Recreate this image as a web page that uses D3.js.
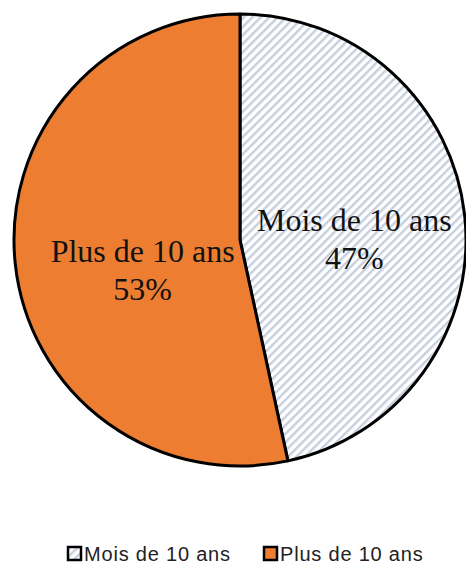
<!DOCTYPE html>
<html>
<head>
<meta charset="utf-8">
<script src="https://cdn.jsdelivr.net/npm/d3@7"></script>
<style>
  body { margin: 0; background: #fff; }
</style>
</head>
<body>
<div id="chart"></div>
<script>
let categories = ["Mois de 10 ans", "Plus de 10 ans"];
let values = [46.6, 53.4];
let pctLabels = ["47%", "53%"];

let w = 466, h = 566;
let cx = 240, cy = 240, r = 226;

let svg = d3.select("#chart")
    .append("svg")
    .attr("width", w)
    .attr("height", h);

// hatch pattern for the first slice
let defs = svg.append("defs");
let pat = defs.append("pattern")
    .attr("id", "hatch")
    .attr("patternUnits", "userSpaceOnUse")
    .attr("width", 6)
    .attr("height", 6)
    .attr("patternTransform", "rotate(45)");
pat.append("rect").attr("width", 6).attr("height", 6).attr("fill", "#fff");
pat.append("rect").attr("x", 0).attr("width", 2.4).attr("height", 6).attr("fill", "#c6cfdd");

let fills = ["url(#hatch)", "#ed7d31"];

let pie = d3.pie().sort(null).value(d => d);
let arc = d3.arc().innerRadius(0).outerRadius(r);
let arcs = pie(values);

let g = svg.append("g").attr("transform", `translate(${cx},${cy})`);

g.selectAll("path")
    .data(arcs)
    .enter()
    .append("path")
    .attr("d", arc)
    .attr("fill", (d, i) => fills[i])
    .attr("stroke", "#000")
    .attr("stroke-width", 3)
    .attr("stroke-linejoin", "round");

// labels inside slices (nudged like the hand-moved labels of the original)
let labelArc = d3.arc().innerRadius(r * 0.5).outerRadius(r * 0.5);
let nudge = [[2, 12], [15, 18]];
let lbl = g.selectAll("text.lbl")
    .data(arcs)
    .enter()
    .append("text")
    .attr("class", "lbl")
    .attr("text-anchor", "middle")
    .attr("font-family", "'Liberation Serif', 'Times New Roman', serif")
    .attr("font-size", 32)
    .attr("fill", "#111")
    .attr("transform", (d, i) => {
        let c = labelArc.centroid(d);
        return `translate(${c[0] + nudge[i][0]},${c[1] + nudge[i][1]})`;
    });
lbl.append("tspan").attr("x", 0).attr("y", -8.5).text((d, i) => categories[i]);
lbl.append("tspan").attr("x", 0).attr("y", 29.5).text((d, i) => pctLabels[i]);

// legend
let legX = d3.scalePoint().domain(categories).range([68, 264]);
let leg = svg.append("g").selectAll("g")
    .data(categories)
    .enter()
    .append("g")
    .attr("transform", d => `translate(${legX(d)},547)`);
leg.append("rect")
    .attr("width", 13)
    .attr("height", 13)
    .attr("fill", (d, i) => fills[i])
    .attr("stroke", "#000")
    .attr("stroke-width", 2.5);
leg.append("text")
    .attr("x", 16)
    .attr("y", 14)
    .attr("font-family", "'Liberation Sans', Arial, sans-serif")
    .attr("font-size", 20)
    .attr("letter-spacing", 0.8)
    .attr("fill", "#222")
    .text(d => d);
</script>
</body>
</html>
